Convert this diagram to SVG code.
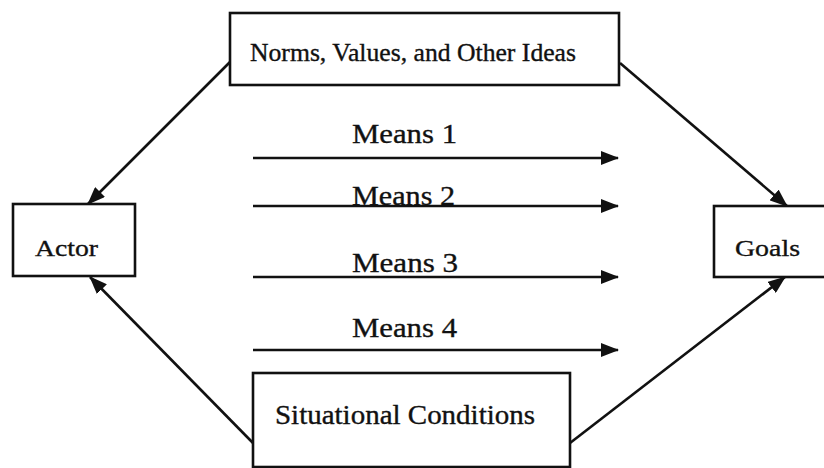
<svg xmlns="http://www.w3.org/2000/svg" width="824" height="468" viewBox="0 0 824 468">
<style>
.box{fill:#fff;stroke:#111;stroke-width:2.6}
.lbl{font-family:"Liberation Serif","Times New Roman",serif;fill:#111;stroke:#111;stroke-width:0.35}
.ln{stroke:#111;stroke-width:2.6;fill:none;marker-end:url(#ah)}
</style>
<defs>
<marker id="ah" markerUnits="userSpaceOnUse" markerWidth="18" markerHeight="14" refX="17" refY="7" orient="auto">
<path d="M0,0 L18,7 L0,14 z" fill="#111"/>
</marker>
</defs>
<rect width="824" height="468" fill="#fff"/>
<g id="connectors">
<line class="ln" x1="230" y1="62" x2="88" y2="204"/>
<line class="ln" x1="620" y1="63" x2="787" y2="206"/>
<line class="ln" x1="253" y1="443" x2="90" y2="277"/>
<line class="ln" x1="570" y1="443" x2="785" y2="277"/>
<line class="ln" x1="253" y1="158" x2="618" y2="158"/>
<line class="ln" x1="253" y1="206" x2="618" y2="206"/>
<line class="ln" x1="253" y1="277" x2="618" y2="277"/>
<line class="ln" x1="253" y1="350" x2="618" y2="350"/>
</g>
<g id="means-labels">
<text class="lbl" x="352" y="143" font-size="27" textLength="105" lengthAdjust="spacingAndGlyphs">Means 1</text>
<text class="lbl" x="352" y="205" font-size="27" textLength="103" lengthAdjust="spacingAndGlyphs">Means 2</text>
<text class="lbl" x="352" y="272" font-size="27" textLength="106" lengthAdjust="spacingAndGlyphs">Means 3</text>
<text class="lbl" x="352" y="337" font-size="27" textLength="105" lengthAdjust="spacingAndGlyphs">Means 4</text>
</g>
<g id="norms">
<rect class="box" x="230" y="13" width="389" height="72"/>
<text class="lbl" x="250" y="61" font-size="25" textLength="326" lengthAdjust="spacingAndGlyphs">Norms, Values, and Other  Ideas</text>
</g>
<g id="actor">
<rect class="box" x="13" y="204" width="122" height="72"/>
<text class="lbl" x="35" y="256" font-size="24" textLength="63" lengthAdjust="spacingAndGlyphs">Actor</text>
</g>
<g id="goals">
<rect class="box" x="714" y="206" width="120" height="71"/>
<text class="lbl" x="735" y="256" font-size="24" textLength="65" lengthAdjust="spacingAndGlyphs">Goals</text>
</g>
<g id="situational">
<rect class="box" x="253" y="373" width="317" height="94"/>
<text class="lbl" x="275" y="424" font-size="27" textLength="260" lengthAdjust="spacingAndGlyphs">Situational  Conditions</text>
</g>
</svg>
